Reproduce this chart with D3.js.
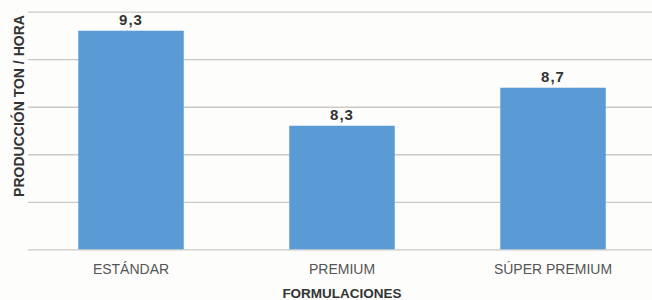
<!DOCTYPE html>
<html>
<head>
<meta charset="utf-8">
<script src="https://cdn.jsdelivr.net/npm/d3@7"></script>
<style>
  body { margin: 0; background: #fdfdfb; }
  svg { display: block; background: #fdfdfb; font-family: "Liberation Sans", Arial, sans-serif; }
  .grid line { stroke: #cdc8c4; stroke-width: 1.3; }
  .grid path { display: none; }
  .grid text { display: none; }
</style>
</head>
<body>
<svg width="652" height="300"></svg>
<script>
var categories = ["ESTÁNDAR", "PREMIUM", "SÚPER PREMIUM"];
var values = [9.3, 8.3, 8.7];
var valueLabels = ["9,3", "8,3", "8,7"];
var yTicks = [7, 7.5, 8, 8.5, 9, 9.5];

var svg = d3.select("svg"),
    gridLeft = 28,
    gridRight = 652;

var x = d3.scaleBand()
    .domain(categories)
    .range([25.5, 658.5])
    .paddingInner(0.5)
    .paddingOuter(0.25);

var y = d3.scaleLinear().domain([7, 9.5]).range([249.3, 11.7]);

svg.append("g")
    .attr("class", "grid")
    .attr("transform", "translate(" + gridLeft + ",0)")
    .call(d3.axisLeft(y).tickValues(yTicks).tickSize(-(gridRight - gridLeft)).tickFormat(""));

svg.selectAll(".bar")
    .data(values)
    .enter().append("rect")
    .attr("class", "bar")
    .attr("x", function(d, i) { return x(categories[i]); })
    .attr("width", x.bandwidth())
    .attr("y", function(d) { return y(d); })
    .attr("height", function(d) { return y(7) - y(d); })
    .attr("fill", "#5b9bd5");

svg.selectAll(".val")
    .data(values)
    .enter().append("text")
    .attr("class", "val")
    .attr("x", function(d, i) { return x(categories[i]) + x.bandwidth() / 2; })
    .attr("y", function(d) { return y(d) - 6; })
    .attr("text-anchor", "middle")
    .style("font", "bold 15px 'Liberation Sans', Arial, sans-serif")
    .style("letter-spacing", "1px")
    .attr("fill", "#333")
    .text(function(d, i) { return valueLabels[i]; });

svg.selectAll(".cat")
    .data(categories)
    .enter().append("text")
    .attr("class", "cat")
    .attr("x", function(d) { return x(d) + x.bandwidth() / 2; })
    .attr("y", 274)
    .attr("text-anchor", "middle")
    .style("font", "14px 'Liberation Sans', Arial, sans-serif")
    .attr("fill", "#555")
    .text(function(d) { return d; });

svg.append("text")
    .attr("x", x("PREMIUM") + x.bandwidth() / 2)
    .attr("y", 297.5)
    .attr("text-anchor", "middle")
    .style("font", "bold 13.5px 'Liberation Sans', Arial, sans-serif")
    .attr("fill", "#333")
    .text("FORMULACIONES");

svg.append("text")
    .attr("transform", "translate(24,106) rotate(-90)")
    .attr("text-anchor", "middle")
    .style("font", "bold 14px 'Liberation Sans', Arial, sans-serif")
    .attr("fill", "#333")
    .text("PRODUCCIÓN TON / HORA");
</script>
</body>
</html>
